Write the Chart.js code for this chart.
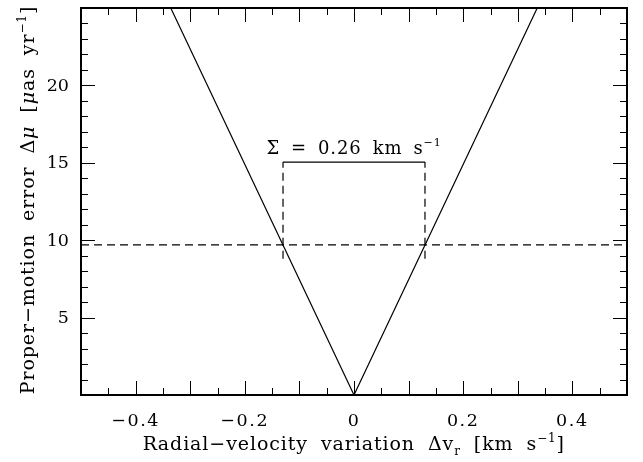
<!DOCTYPE html>
<html>
<head>
<meta charset="utf-8">
<script src="https://cdn.jsdelivr.net/npm/chart.js@4"></script>
<style>
  html, body { margin: 0; padding: 0; background: #fff; }
  #wrap { width: 643px; height: 462px; }
</style>
</head>
<body>
<div id="wrap"><canvas id="chart" width="643" height="462"></canvas></div>
<script>
// data
const vLineX = [-0.3356, 0, 0.3356];
const vLineY = [25, 0, 25];
const limitX = [-0.5, 0.5];
const limitY = [9.7, 9.7];
const sigmaLeftX = [-0.13, -0.13];
const sigmaRightX = [0.13, 0.13];
const sigmaY = [8.8, 15.05];
const bracketX = [-0.13, 0.13];
const bracketY = [15.05, 15.05];
const xTickLabels = [-0.4, -0.2, 0, 0.2, 0.4];
const yTickLabels = [5, 10, 15, 20];

const FONT = '"DejaVu Serif", "Liberation Serif", serif';
const MINUS = '\u2212';

function pts(xs, ys) {
  return xs.map((x, i) => ({ x: x, y: ys[i] }));
}

function fmt(v) {
  if (v === 0) return '0';
  return (v < 0 ? MINUS : '') + Math.abs(v).toFixed(1);
}

// text in pieces: [text, size, dy, style]; spaces drawn as a fixed gap
function richWidth(ctx, parts, gap, ls) {
  let w = 0;
  parts.forEach(p => {
    ctx.font = p[3] + p[1] + 'px ' + FONT;
    p[0].split(' ').forEach((word, i) => {
      if (i > 0) w += gap;
      if (word) w += ctx.measureText(word).width + ls * word.length;
    });
  });
  return w;
}

function drawRich(ctx, parts, cx, baseY, gap, ls) {
  ctx.textAlign = 'left';
  ctx.textBaseline = 'alphabetic';
  let x = cx - richWidth(ctx, parts, gap, ls) / 2;
  parts.forEach(p => {
    ctx.font = p[3] + p[1] + 'px ' + FONT;
    p[0].split(' ').forEach((word, i) => {
      if (i > 0) x += gap;
      for (const ch of word) {
        ctx.fillText(ch, x, baseY + p[2]);
        x += ctx.measureText(ch).width + ls;
      }
    });
  });
}

// frame, inward ticks, labels and titles
const framePlugin = {
  id: 'frame',
  afterDraw(chart) {
    const ctx = chart.ctx;
    const a = chart.chartArea;
    const xs = chart.scales.x;
    const ys = chart.scales.y;
    ctx.save();
    ctx.strokeStyle = '#000';
    ctx.lineWidth = 2;
    ctx.strokeRect(a.left, a.top, a.right - a.left, a.bottom - a.top);

    ctx.lineWidth = 1;
    ctx.beginPath();
    for (let i = -10; i <= 10; i++) {
      const px = Math.round(xs.getPixelForValue(i * 0.05)) + 0.5;
      const len = (i % 2 === 0) ? 14 : 7;
      ctx.moveTo(px, a.bottom); ctx.lineTo(px, a.bottom - len);
      ctx.moveTo(px, a.top); ctx.lineTo(px, a.top + len);
    }
    for (let v = 1; v < 25; v++) {
      const py = Math.round(ys.getPixelForValue(v)) + 0.5;
      const len = (v % 5 === 0) ? 14 : 7;
      ctx.moveTo(a.left, py); ctx.lineTo(a.left + len, py);
      ctx.moveTo(a.right, py); ctx.lineTo(a.right - len, py);
    }
    ctx.stroke();

    ctx.fillStyle = '#000';
    xTickLabels.forEach(v => {
      drawRich(ctx, [[fmt(v), 17.5, 0, '']], xs.getPixelForValue(v), a.bottom + 31, 0, 1.6);
    });
    ctx.font = '17.5px ' + FONT;
    ctx.textAlign = 'right';
    ctx.textBaseline = 'middle';
    yTickLabels.forEach(v => {
      ctx.fillText(String(v), a.left - 12, ys.getPixelForValue(v) + 1);
    });

    const cx = xs.getPixelForValue(0);

    // sigma label above the bracket
    drawRich(ctx, [
      ['\u03a3 = 0.26 km s', 18, 0, ''],
      [MINUS + '1', 11, -8, '']
    ], cx, ys.getPixelForValue(bracketY[0]) - 8, 11, 0.9);

    // x title
    drawRich(ctx, [
      ['Radial' + MINUS + 'velocity variation \u0394v', 19, 0, ''],
      ['r', 12, 5, ''],
      [' [km s', 19, 0, ''],
      [MINUS + '1', 12, -8, ''],
      [']', 19, 0, '']
    ], cx, 450, 13, 0.9);

    // y title, rotated
    ctx.save();
    ctx.translate(34, 200);
    ctx.rotate(-Math.PI / 2);
    drawRich(ctx, [
      ['Proper' + MINUS + 'motion error \u0394', 19, 0, ''],
      ['\u03bc', 19, 0, 'italic '],
      [' [', 19, 0, ''],
      ['\u03bc', 19, 0, 'italic '],
      ['as yr', 19, 0, ''],
      [MINUS + '1', 12, -8, ''],
      [']', 19, 0, '']
    ], 0, 0, 13, 0.9);
    ctx.restore();
    ctx.restore();
  }
};

const lineStyle = { showLine: true, pointRadius: 0, borderColor: '#000', borderWidth: 1.2, fill: false, tension: 0 };

new Chart(document.getElementById('chart'), {
  type: 'scatter',
  data: {
    datasets: [
      Object.assign({ data: pts(vLineX, vLineY) }, lineStyle),
      Object.assign({ data: pts(limitX, limitY), borderDash: [8, 5] }, lineStyle),
      Object.assign({ data: pts(sigmaLeftX, sigmaY), borderDash: [8, 5] }, lineStyle),
      Object.assign({ data: pts(sigmaRightX, sigmaY), borderDash: [8, 5] }, lineStyle),
      Object.assign({ data: pts(bracketX, bracketY) }, lineStyle)
    ]
  },
  options: {
    responsive: false,
    animation: false,
    layout: { padding: { left: 81, right: 16, top: 8, bottom: 67 } },
    plugins: { legend: { display: false }, tooltip: { enabled: false } },
    scales: {
      x: { type: 'linear', min: -0.5, max: 0.5, display: false },
      y: { type: 'linear', min: 0, max: 25, display: false }
    }
  },
  plugins: [framePlugin]
});
</script>
</body>
</html>
